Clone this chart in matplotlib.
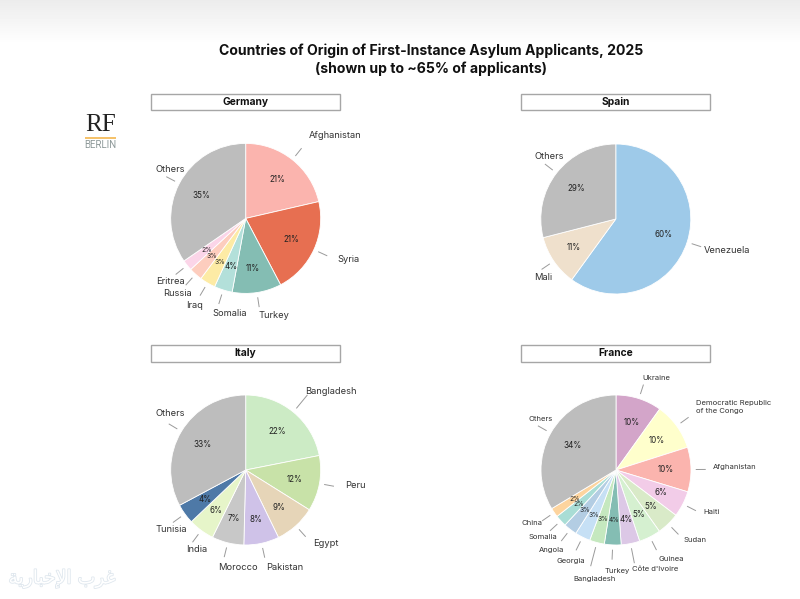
import matplotlib
matplotlib.use('Agg')
import matplotlib.pyplot as plt
import matplotlib.patheffects as pe
import numpy as np
from matplotlib.patches import Rectangle

W, H = 800, 599
FONT = 'Inter'

# --------------------------------------------------------------------------- #
# Data
# --------------------------------------------------------------------------- #
germany_names = ['Afghanistan', 'Syria', 'Turkey', 'Somalia', 'Iraq', 'Russia', 'Eritrea', 'Others']
germany_vals = [21.4, 20.9, 10.6, 3.9, 3.4, 2.9, 2.3, 34.6]
germany_cols = ['#fbb4ae', '#e76f51', '#84bdb3', '#b3e0da', '#fdeba5', '#fdcdbe', '#fbd5e8', '#bdbdbd']

spain_names = ['Venezuela', 'Mali', 'Others']
spain_vals = [60, 11, 29]
spain_cols = ['#9ecae9', '#efe0cc', '#bdbdbd']

italy_names = ['Bangladesh', 'Peru', 'Egypt', 'Pakistan', 'Morocco', 'India', 'Tunisia', 'Others']
italy_vals = [21.9, 12, 8.9, 7.6, 6.9, 5.6, 4.3, 32.8]
italy_cols = ['#ccebc5', '#c8e2a8', '#e6d5b8', '#cfc2e8', '#c8c8c8', '#e6f5c9', '#4e79a7', '#bdbdbd']

france_names = ['Ukraine', 'Democratic Republic\nof the Congo', 'Afghanistan', 'Haiti', 'Sudan', 'Guinea',
                "Côte d'Ivoire", 'Turkey', 'Bangladesh', 'Georgia', 'Angola', 'Somalia', 'China', 'Others']
france_vals = [9.9, 10.2, 9.6, 5.6, 4.9, 4.7, 4, 3.6, 3.2, 3.3, 2.9, 2.5, 2.0, 33.6]
france_cols = ['#d3a5c9', '#ffffcc', '#fbb4ae', '#f2cce8', '#d9eac8', '#d5f0d0', '#dcc8e6', '#84bdb3',
               '#c5e8bf', '#c6e0f5', '#b3cde3', '#a9ddd5', '#fdd49e', '#bdbdbd']

# --------------------------------------------------------------------------- #
# Layout (pixels): pie centre, title box, label centres, leader line end radius
# --------------------------------------------------------------------------- #
panels = [
    dict(title='Germany', names=germany_names, vals=germany_vals, cols=germany_cols,
         centre=(245.7, 218.4), box=(151, 93.7), size=6.7, pct=5.8,
         label_xy=[(335, 135.5), (349, 259), (273.7, 316), (230, 314), (195, 305.7), (177.7, 293.7), (170.7, 281),
                   (170, 169)],
         leader={}),
    dict(title='Spain', names=spain_names, vals=spain_vals, cols=spain_cols,
         centre=(615.8, 219), box=(521, 93.7), size=6.7, pct=5.8,
         label_xy=[(727, 250.7), (543, 278), (549, 156.7)],
         leader={}),
    dict(title='Italy', names=italy_names, vals=italy_vals, cols=italy_cols,
         centre=(245.7, 470), box=(151, 345), size=6.7, pct=5.8,
         label_xy=[(331, 392), (355.7, 485), (325.7, 544), (285, 567.7), (238, 567.7), (196.7, 550), (171, 530),
                   (170.7, 414)],
         leader={'Bangladesh': 1.29}),
    dict(title='France', names=france_names, vals=france_vals, cols=france_cols,
         centre=(616, 470), box=(521, 345), size=5.5, pct=5.8,
         label_xy=[(656.7, 377.7), (696, 407), (735, 467), (711, 512), (695, 540), (671.7, 558.7), (655, 569),
                   (617.3, 571.3), (595, 579), (571, 561), (551.7, 549.7), (543, 536.7), (531.7, 523), (541, 419.3)],
         leader={'Bangladesh': 1.32, "Côte d'Ivoire": 1.26}),
]
RADIUS = 75.0
LEADER_START = 1.07
LEADER_END = 1.19

# --------------------------------------------------------------------------- #
# Main
# --------------------------------------------------------------------------- #
def px(x, y):
  return x / W, 1 - y / H


def draw_panel(fig, p):
  cx, cy = p['centre']
  span = RADIUS * 1.25
  ax = fig.add_axes([(cx - span) / W, 1 - (cy + span) / H, 2 * span / W, 2 * span / H])
  ax.patch.set_visible(False)

  wedges, _, autotexts = ax.pie(p['vals'], colors=p['cols'], startangle=90, counterclock=False,
                                autopct='%.0f%%', pctdistance=0.67,
                                wedgeprops=dict(edgecolor='white', linewidth=0.6),
                                textprops=dict(fontfamily=FONT, fontsize=p['pct'], color='#222222'))
  ax.set_xlim(-1.25, 1.25)
  ax.set_ylim(-1.25, 1.25)

  # Thin slices crowd together near the centre, so their percentages go smaller
  for t, v in zip(autotexts, p['vals']):
    if v < 3.7:
      t.set_fontsize(4.8)

  # Leader lines follow the middle of each wedge
  for w, name in zip(wedges, p['names']):
    ang = np.deg2rad((w.theta1 + w.theta2) / 2)
    r_end = p['leader'].get(name, LEADER_END)
    ax.plot([LEADER_START * np.cos(ang), r_end * np.cos(ang)],
            [LEADER_START * np.sin(ang), r_end * np.sin(ang)],
            color='#9a9a9a', linewidth=0.7, clip_on=False)

  for name, (lx, ly) in zip(p['names'], p['label_xy']):
    two_lines = '\n' in name
    fx, fy = px(lx, ly)
    fig.text(fx, fy, name, fontfamily=FONT, fontsize=p['size'], color='#333333', va='center',
             ha='left' if two_lines else 'center', linespacing=1.25)

  # Title box
  bx, by = p['box']
  fig.add_artist(Rectangle(px(bx, by + 16.5), 189 / W, 16.5 / H, transform=fig.transFigure,
                           facecolor='white', edgecolor='#a6a6a6', linewidth=1.0))
  fx, fy = px(bx + 94.5, by + 8.5)
  fig.text(fx, fy, p['title'], fontfamily=FONT, fontsize=7.4, fontweight='bold', color='#111111',
           ha='center', va='center')


def main():
  fig = plt.figure(figsize=(W / 100, H / 100), dpi=100, facecolor='white')

  # Faint grey shade along the top edge
  shade = fig.add_axes([0, 1 - 45 / H, 1, 45 / H], zorder=-1)
  shade.imshow(np.linspace(0.925, 1.0, 45)[:, None], cmap='gray', vmin=0, vmax=1, aspect='auto')
  shade.axis('off')

  fx, fy = px(431, 51)
  fig.text(fx, fy, 'Countries of Origin of First-Instance Asylum Applicants, 2025', fontfamily=FONT,
           fontsize=10.1, fontweight='bold', color='#111111', ha='center', va='center')
  fx, fy = px(431, 68.5)
  fig.text(fx, fy, '(shown up to ~65% of applicants)', fontfamily=FONT,
           fontsize=10.1, fontweight='bold', color='#111111', ha='center', va='center')

  for p in panels:
    draw_panel(fig, p)

  # RF Berlin logo
  fx, fy = px(100.5, 125)
  fig.text(fx, fy, 'RF', fontfamily='Liberation Serif', fontsize=18, color='#222222', ha='center', va='center')
  fig.add_artist(Rectangle(px(85, 138.7), 31 / W, 2 / H, transform=fig.transFigure,
                           facecolor='#f5c26b', edgecolor='none'))
  fx, fy = px(100.5, 144.5)
  fig.text(fx, fy, 'BERLIN', fontfamily='Roboto', fontsize=7, color='#8f9a9a', ha='center', va='center')

  # Watermark, shaped by hand as matplotlib does not join Arabic letters
  watermark = '\ufe94\ufef3\ufead\ufe8e\ufe92\ufea7\ufef9\ufe8d \ufe8f\ufeae\ufecf'
  fx, fy = px(62, 579)
  fig.text(fx, fy, watermark, fontfamily='DejaVu Sans', fontsize=13.5, color='white', ha='center', va='center',
           path_effects=[pe.withStroke(linewidth=1.2, foreground='#dfe7ee')])

  fig.savefig('out.png', dpi=100)


if __name__ == '__main__':
  main()
